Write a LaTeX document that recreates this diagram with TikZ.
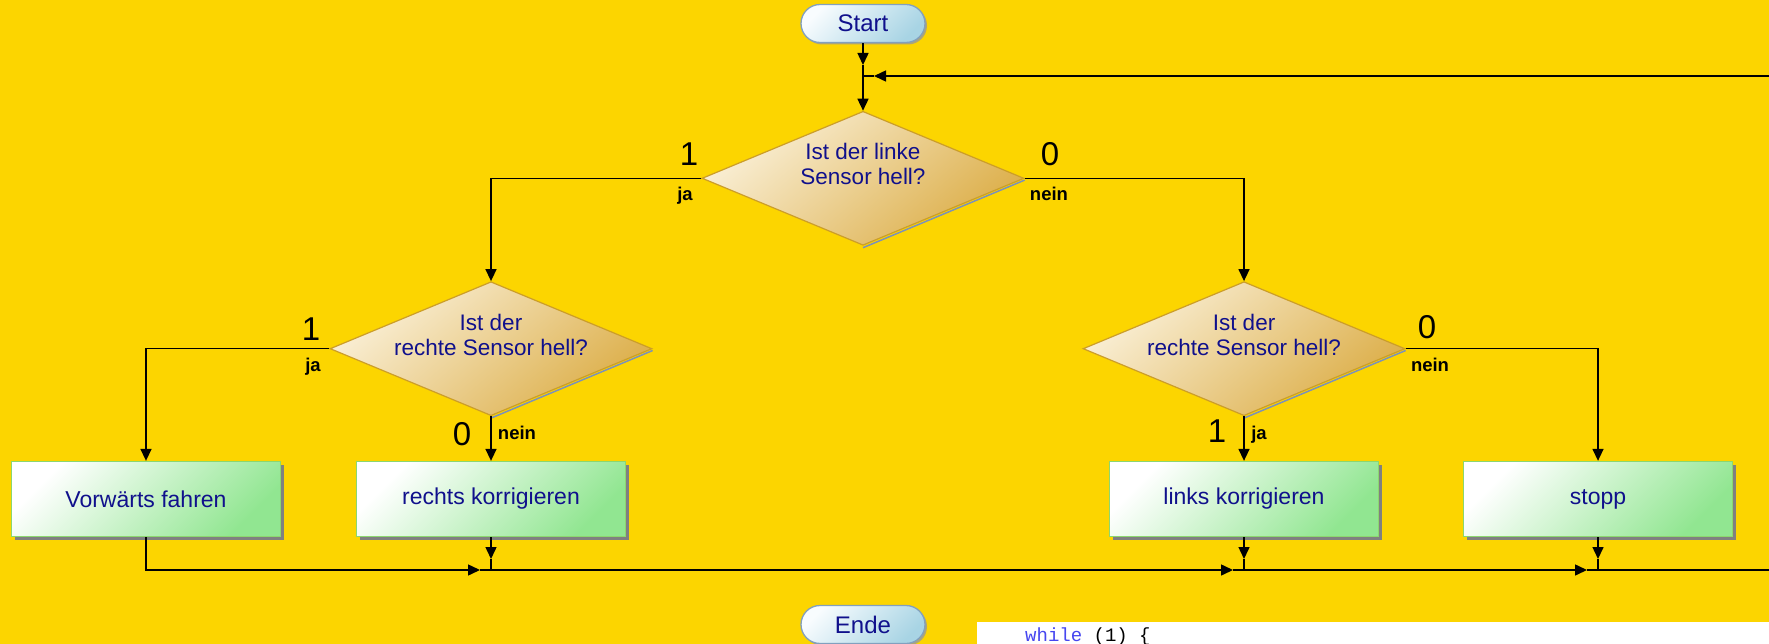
\documentclass[tikz,border=0pt]{standalone}
\usepackage{fontspec}
\setmainfont{Liberation Sans}
\newfontfamily\codefont{Liberation Mono}
\usetikzlibrary{shapes.geometric,arrows.meta,shadows,calc}
\definecolor{bgyellow}{RGB}{252,213,0}
\definecolor{txtblue}{RGB}{16,16,140}
\definecolor{declight}{RGB}{250,240,216}
\definecolor{decdark}{RGB}{220,174,72}
\definecolor{decborder}{RGB}{204,158,40}
\definecolor{decshadow}{RGB}{125,145,185}
\definecolor{boxdark}{RGB}{145,230,145}
\definecolor{boxborder}{RGB}{140,215,110}
\definecolor{pilllight}{RGB}{248,252,254}
\definecolor{pilldark}{RGB}{168,212,228}
\definecolor{pillborder}{RGB}{130,160,190}
\definecolor{kwblue}{RGB}{70,70,240}
\tikzset{
  dec/.style={diamond, draw=decborder, line width=1.2pt, top color=declight, bottom color=decdark, shading angle=40, minimum width=322pt, minimum height=134pt, inner sep=0pt},
  dtext/.style={align=center, text=txtblue, font=\fontsize{22.5}{24.5}\selectfont, inner sep=0pt},
  procbox/.style={rectangle, draw=boxborder, line width=1.3pt, top color=white, bottom color=boxdark, shading angle=45, minimum width=269pt, minimum height=75pt, text=txtblue, font=\fontsize{23}{26}\selectfont, drop shadow={shadow xshift=3pt, shadow yshift=-3pt, fill=black!50, opacity=1}},
  pill/.style={rectangle, rounded corners=19pt, draw=pillborder, line width=1.3pt, top color=pilllight, bottom color=pilldark, shading angle=45, minimum width=124pt, minimum height=38pt, text=txtblue, font=\fontsize{24}{26}\selectfont, drop shadow={shadow xshift=2pt, shadow yshift=-2pt, fill=black!40, opacity=0.8}},
  conn/.style={draw=black, line width=1.5pt},
  arr/.style={-{Triangle[length=12pt,width=11pt]}},
  digit/.style={anchor=base, inner sep=0pt, font=\fontsize{33}{33}\selectfont},
  yn/.style={anchor=base, inner sep=0pt, font=\bfseries\fontsize{18.5}{18.5}\selectfont},
}
\begin{document}
\begin{tikzpicture}[x=1pt,y=-1pt]
\useasboundingbox (0,0) rectangle (1769,644);
\fill[bgyellow] (0,0) rectangle (1769,644);

% terminals
\node[pill] (start) at (863,23.5) {Start};
\node[pill] (ende) at (863,624.5) {Ende};

% decisions
\node[dec] (d1) at (863,178.3) {};
\draw[decshadow, line width=1.5pt] ($(d1.east)+(0,1.8)$) -- ($(d1.south)+(0,1.8)$);
\node[dtext] (d1t) at (863,164) {Ist der linke\\Sensor hell?};

\node[dec] (d2) at (491,348.7) {};
\draw[decshadow, line width=1.5pt] ($(d2.east)+(0,1.8)$) -- ($(d2.south)+(0,1.8)$);
\node[dtext] (d2t) at (491,335) {Ist der\\rechte Sensor hell?};

\node[dec] (d3) at (1244,348.7) {};
\draw[decshadow, line width=1.5pt] ($(d3.east)+(0,1.8)$) -- ($(d3.south)+(0,1.8)$);
\node[dtext] (d3t) at (1244,335) {Ist der\\rechte Sensor hell?};

% process boxes
\node[procbox] (vor) at (146,499) {Vorwärts fahren};
\node[procbox] (rk) at (491,499) {rechts korrigieren};
\node[procbox] (lk) at (1244,499) {links korrigieren};
\node[procbox] (stp) at (1598,499) {stopp};

% coordinates
\coordinate (tJ) at (863,76);
\coordinate (tR) at (1772,76);
\coordinate (j2) at (491,570);
\coordinate (j3) at (1244,570);
\coordinate (j4) at (1598,570);
\coordinate (bR) at (1772,570);

% top
\draw[conn,arr] (start.south) -- ($(tJ)+(0,-11)$);
\draw[conn,arr] ($(tJ)+(0,-11)$) -- (d1.north);
\draw[conn,arr] (tR) -- ($(tJ)+(11,0)$);
\draw[conn] ($(tJ)+(11,0)$) -- (tJ);

% branches
\draw[conn,arr] (d1.west) -| (d2.north);
\draw[conn,arr] (d1.east) -| (d3.north);
\draw[conn,arr] (d2.west) -| (vor.north);
\draw[conn,arr] (d2.south) -- (rk.north);
\draw[conn,arr] (d3.south) -- (lk.north);
\draw[conn,arr] (d3.east) -| (stp.north);

% bottom merge
\draw[conn,arr] (vor.south) |- ($(j2)+(-11,0)$);
\draw[conn] ($(j2)+(-11,0)$) -- (j2);
\draw[conn,arr] (j2) -- ($(j3)+(-11,0)$);
\draw[conn] ($(j3)+(-11,0)$) -- (j3);
\draw[conn,arr] (j3) -- ($(j4)+(-11,0)$);
\draw[conn] ($(j4)+(-11,0)$) -- (j4) -- (bR);

\draw[conn,arr] (rk.south) -- ($(j2)+(0,-11)$);
\draw[conn] ($(j2)+(0,-11)$) -- (j2);
\draw[conn,arr] (lk.south) -- ($(j3)+(0,-11)$);
\draw[conn] ($(j3)+(0,-11)$) -- (j3);
\draw[conn,arr] (stp.south) -- ($(j4)+(0,-11)$);
\draw[conn] ($(j4)+(0,-11)$) -- (j4);

% branch labels
\node[digit] (l1a) at (689,166) {1};
\node[yn] (l1b) at (685,201) {ja};
\node[digit] (l1c) at (1050,166) {0};
\node[yn] (l1d) at (1049,201) {nein};

\node[digit] (l2a) at (311,340) {1};
\node[yn] (l2b) at (313,371) {ja};
\node[digit] (l2c) at (462,445) {0};
\node[yn] (l2d) at (517,439) {nein};

\node[digit] (l3a) at (1427,338) {0};
\node[yn] (l3b) at (1430,371) {nein};
\node[digit] (l3c) at (1217,442) {1};
\node[yn] (l3d) at (1259,439) {ja};

% code panel
\fill[white] (977,622) rectangle (1772,648);
\node[anchor=base west, inner sep=0pt, font=\codefont\fontsize{19}{19}\selectfont] (code) at (1025,641) {\textcolor{kwblue}{while} (1) \{};
\end{tikzpicture}
\end{document}
